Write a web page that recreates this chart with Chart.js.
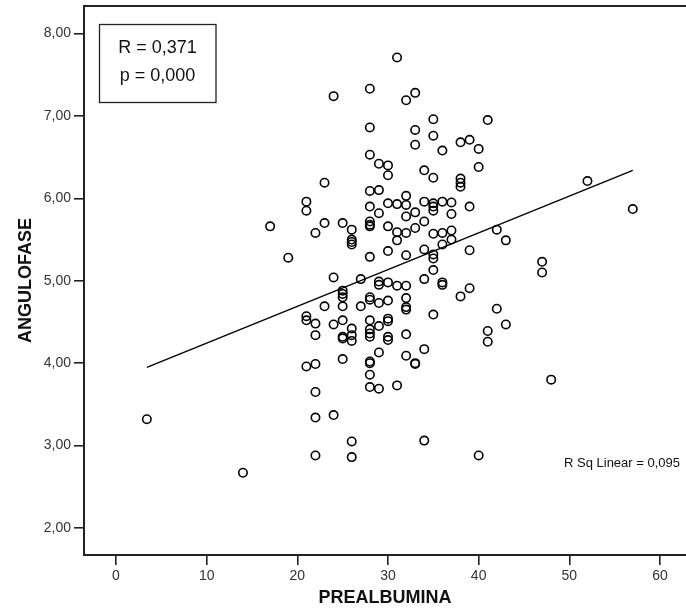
<!DOCTYPE html>
<html>
<head>
<meta charset="utf-8">
<script src="https://cdn.jsdelivr.net/npm/chart.js@4.4.1/dist/chart.umd.min.js"></script>
<style>
	html, body { margin: 0; padding: 0; background: #fff; }
	#wrap { width: 686px; height: 614px; }
</style>
</head>
<body>
<div id="wrap"><canvas id="myChart" width="686" height="614"></canvas></div>
<script>
// PREALBUMINA (x) and ANGULOFASE (y)
const prealbumina = [
	3.4, 14, 17, 19,
	21, 21, 21, 21, 21,
	22, 22, 22, 22, 22, 22, 22,
	23, 23, 23,
	24, 24, 24, 24,
	25, 25, 25, 25, 25, 25, 25, 25, 25,
	26, 26, 26, 26, 26, 26, 26, 26, 26,
	27, 27,
	28, 28, 28, 28, 28, 28, 28, 28, 28, 28, 28, 28, 28, 28, 28, 28, 28, 28, 28,
	29, 29, 29, 29, 29, 29, 29, 29, 29,
	30, 30, 30, 30, 30, 30, 30, 30, 30, 30, 30,
	31, 31, 31, 31, 31, 31,
	32, 32, 32, 32, 32, 32, 32, 32, 32, 32, 32, 32,
	33, 33, 33, 33, 33, 33, 33,
	34, 34, 34, 34, 34, 34, 34,
	35, 35, 35, 35, 35, 35, 35, 35, 35, 35, 35,
	36, 36, 36, 36, 36, 36,
	37, 37, 37, 37,
	38, 38, 38, 38, 38,
	39, 39, 39, 39,
	40, 40, 40,
	41, 41, 41,
	42, 42,
	43, 43,
	47, 47,
	48, 52, 57
];
const angulofase = [
	3.32, 2.67, 5.66, 5.28,
	5.96, 5.85, 4.57, 4.52, 3.96,
	5.58, 4.48, 4.34, 3.99, 3.65, 3.34, 2.88,
	6.19, 5.70, 4.69,
	7.24, 5.04, 4.47, 3.37,
	5.70, 4.88, 4.84, 4.80, 4.69, 4.52, 4.32, 4.30, 4.05,
	5.62, 5.50, 5.47, 5.44, 4.42, 4.34, 4.27, 3.05, 2.86,
	5.02, 4.69,
	7.33, 6.86, 6.53, 6.09, 5.90, 5.72, 5.68, 5.66, 5.29, 4.80, 4.77, 4.52, 4.41, 4.36, 4.32, 4.02, 4.00, 3.86, 3.71,
	6.42, 6.10, 5.82, 4.99, 4.95, 4.73, 4.45, 4.13, 3.69,
	6.40, 6.28, 5.94, 5.66, 5.36, 4.98, 4.76, 4.54, 4.51, 4.32, 4.28,
	7.71, 5.93, 5.59, 5.49, 4.94, 3.73,
	7.19, 6.03, 5.92, 5.78, 5.58, 5.31, 4.94, 4.79, 4.68, 4.65, 4.35, 4.09,
	7.28, 6.83, 6.65, 5.83, 5.64, 4.00, 3.99,
	6.34, 5.96, 5.72, 5.38, 5.02, 4.17, 3.06,
	6.96, 6.76, 6.25, 5.94, 5.90, 5.85, 5.57, 5.32, 5.27, 5.13, 4.59,
	6.58, 5.96, 5.58, 5.44, 4.98, 4.95,
	5.95, 5.81, 5.61, 5.50,
	6.68, 6.24, 6.19, 6.14, 4.81,
	6.71, 5.90, 5.37, 4.91,
	6.60, 6.38, 2.88,
	6.95, 4.39, 4.26,
	5.62, 4.66,
	5.49, 4.47,
	5.23, 5.10,
	3.80, 6.21, 5.87
];
// fit line end points
const fitX = [3.4, 57];
const fitY = [3.95, 6.34];

const xTicks = [0, 10, 20, 30, 40, 50, 60];
const yTicks = [2, 3, 4, 5, 6, 7, 8];

const statLines = ["R = 0,371", "p = 0,000"];
const rsqText = "R Sq Linear = 0,095";

const points = prealbumina.map(function(v, i) { return {x: v, y: angulofase[i]}; });
const fitPoints = fitX.map(function(v, i) { return {x: v, y: fitY[i]}; });

const extras = {
	id: 'extras',
	afterDraw: function(chart) {
		const ctx = chart.ctx;
		const a = chart.chartArea;
		ctx.save();
		// top frame line (right side runs off the picture)
		ctx.strokeStyle = '#222';
		ctx.lineWidth = 2;
		ctx.beginPath();
		ctx.moveTo(a.left, a.top);
		ctx.lineTo(a.right, a.top);
		ctx.stroke();
		// stats box
		ctx.lineWidth = 1.3;
		ctx.strokeStyle = '#222';
		ctx.strokeRect(99.5, 24.5, 116.5, 78);
		ctx.fillStyle = '#111';
		ctx.font = '18px "Liberation Sans", Arial, sans-serif';
		ctx.textAlign = 'center';
		ctx.textBaseline = 'middle';
		ctx.fillText(statLines[0], 157.5, 48);
		ctx.fillText(statLines[1], 157.5, 76);
		// R Sq text
		ctx.font = '13px "Liberation Sans", Arial, sans-serif';
		ctx.textAlign = 'right';
		ctx.fillText(rsqText, 680, 463);
		ctx.restore();
	}
};

const ctx = document.getElementById('myChart');
new Chart(ctx, {
	type: 'scatter',
	data: {
		datasets: [{
			label: 'points',
			data: points,
			pointStyle: 'circle',
			pointRadius: 4.2,
			pointHoverRadius: 4.2,
			borderColor: '#000',
			backgroundColor: 'rgba(0,0,0,0)',
			borderWidth: 1.6
		}, {
			type: 'line',
			label: 'fit',
			data: fitPoints,
			borderColor: '#000',
			borderWidth: 1.4,
			pointRadius: 0,
			fill: false
		}]
	},
	options: {
		responsive: false,
		animation: false,
		layout: { autoPadding: false, padding: { left: 0, right: 0, top: 6, bottom: 0 } },
		plugins: { legend: { display: false }, tooltip: { enabled: false } },
		scales: {
			x: {
				type: 'linear',
				min: -3.53,
				max: 62.87,
				afterBuildTicks: function(s) { s.ticks = xTicks.map(function(v) { return {value: v}; }); },
				afterFit: function(s) { s.height = 59; s.paddingLeft = 0; s.paddingRight = 0; },
				grid: { drawOnChartArea: false, drawTicks: true, tickLength: 10, color: '#222', lineWidth: 1.6 },
				border: { display: true, color: '#222', width: 2 },
				ticks: {
					color: '#333',
					padding: 3,
					maxRotation: 0,
					font: { family: '"Liberation Sans", Arial, sans-serif', size: 14 }
				},
				title: {
					display: true,
					text: 'PREALBUMINA',
					color: '#111',
					padding: { top: 0, bottom: 5 },
					font: { family: '"Liberation Sans", Arial, sans-serif', size: 18, weight: 'bold' }
				}
			},
			y: {
				type: 'linear',
				min: 1.672,
				max: 8.334,
				afterBuildTicks: function(s) { s.ticks = yTicks.map(function(v) { return {value: v}; }); },
				afterFit: function(s) { s.width = 84; s.paddingTop = 0; s.paddingBottom = 0; },
				grid: { drawOnChartArea: false, drawTicks: true, tickLength: 10, color: '#222', lineWidth: 1.6 },
				border: { display: true, color: '#222', width: 2 },
				ticks: {
					color: '#333',
					padding: 3,
					callback: function(v) { return v.toFixed(2).replace('.', ','); },
					font: { family: '"Liberation Sans", Arial, sans-serif', size: 14 }
				},
				title: {
					display: true,
					text: 'ANGULOFASE',
					color: '#111',
					padding: { top: 15, bottom: 0 },
					font: { family: '"Liberation Sans", Arial, sans-serif', size: 18, weight: 'bold' }
				}
			}
		}
	},
	plugins: [extras]
});
</script>
</body>
</html>
